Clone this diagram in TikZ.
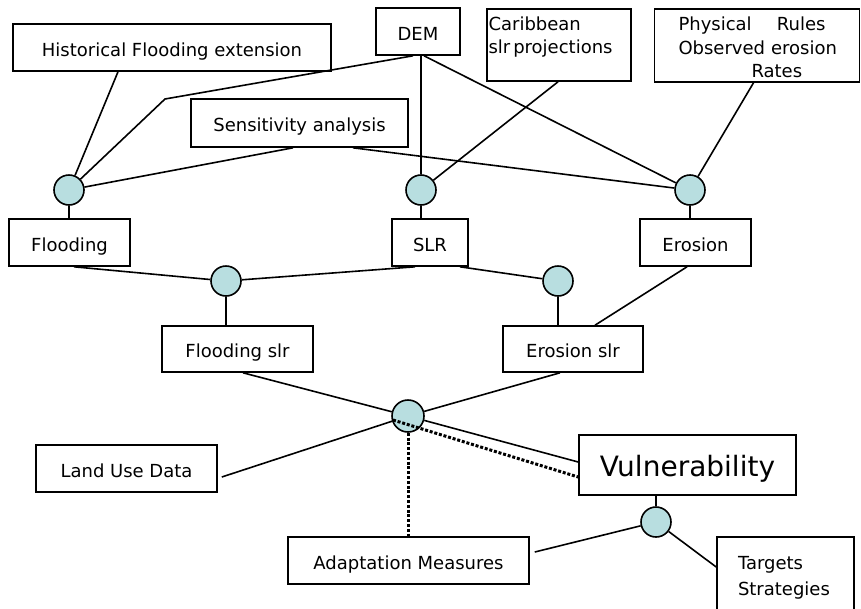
\documentclass[tikz,border=0pt]{standalone}
\usepackage{fontspec}
\setmainfont{DejaVu Sans}
\definecolor{hubfill}{RGB}{184,222,224}
\begin{document}
\begin{tikzpicture}[x=1pt,y=-1pt,
  box/.style={draw, line width=1.6pt, inner sep=0pt, font=\fontsize{18}{24}\selectfont, text height=17.5pt, text depth=0pt},
  hub/.style={draw, circle, fill=hubfill, line width=1.6pt, minimum size=30pt, inner sep=0pt},
  link/.style={line width=1.6pt},
  dotlink/.style={line width=3pt, dash pattern=on 3pt off 1.8pt}]
\useasboundingbox (0,0) rectangle (861,608);

% boxes
\node[box, minimum width=318pt, minimum height=47pt] (hist) at (172,47.5) {Historical Flooding extension};
\node[box, minimum width=84pt, minimum height=47pt] (dem) at (418,31.5) {DEM};
\node[box, minimum width=144pt, minimum height=72pt, text width=141pt, align=left, font=\fontsize{18}{23}\selectfont, text height=14pt, text depth=42.6pt] (carib) at (559,45) {Caribbean\\slr\hspace{3pt}projections};
\node[box, minimum width=205pt, minimum height=73pt, text width=205pt, align=left, font=\fontsize{18}{23.5}\selectfont, text height=14pt, text depth=43.6pt] (phys) at (757,45.5) {\hspace*{24pt}\makebox[147pt][l]{Physical\hfill Rules}\\\hspace*{24pt}Observed erosion\\\hspace*{97pt}Rates};
\node[box, minimum width=217pt, minimum height=48pt] (sens) at (299.5,123) {Sensitivity analysis};
\node[box, minimum width=121pt, minimum height=47pt] (flood) at (69.5,242.5) {Flooding};
\node[box, minimum width=76pt, minimum height=47pt] (slr) at (430,242.5) {SLR};
\node[box, minimum width=111pt, minimum height=47pt] (eros) at (695.5,242.5) {Erosion};
\node[box, minimum width=151pt, minimum height=46pt] (floodslr) at (237.5,349) {Flooding slr};
\node[box, minimum width=140pt, minimum height=46pt] (erosslr) at (573,349) {Erosion slr};
\node[box, minimum width=181pt, minimum height=47pt] (landuse) at (126.5,468.5) {Land Use Data};
\node[box, minimum width=217pt, minimum height=60pt, font=\fontsize{28}{32}\selectfont, text height=23.4pt] (vuln) at (687.5,465) {Vulnerability};
\node[box, minimum width=241pt, minimum height=47pt] (adapt) at (408.5,560.5) {Adaptation Measures};
\node[box, minimum width=137pt, minimum height=73pt, text width=95pt, align=left, font=\fontsize{18}{26}\selectfont, text height=14pt, text depth=22.4pt] (targets) at (785.5,573.5) {Targets\\Strategies};

% hubs
\node[hub] (c1) at (69,190) {};
\node[hub] (c2) at (421,190) {};
\node[hub] (c3) at (690,190) {};
\node[hub] (c4) at (226,281) {};
\node[hub] (c5) at (558,281) {};
\node[hub, minimum size=32pt] (c6) at (408,416) {};
\node[hub] (c7) at (656,522) {};

% connectors
\coordinate (bend) at (165,99);
\draw[link] ([xshift=-5pt]dem.south) -- (bend) -- (c1);
\draw[link] ([xshift=-54pt]hist.south) -- (c1);
\draw[link] (c1) -- ([xshift=-6.5pt]sens.south);
\draw[link] ([xshift=53.5pt]sens.south) -- (c3);
\draw[link] (dem.south -| c2) -- (c2);
\draw[link] ([xshift=6pt]dem.south) -- (c3);
\draw[link] ([xshift=-1pt]carib.south) -- (c2);
\draw[link] ([xshift=-3.5pt]phys.south) -- (c3);
\draw[link] (c1) -- (c1 |- flood.north);
\draw[link] (c2) -- (c2 |- slr.north);
\draw[link] (c3) -- (c3 |- eros.north);
\draw[link] ([xshift=4.5pt]flood.south) -- (c4);
\draw[link] (c4) -- ([xshift=-15pt]slr.south);
\draw[link] ([xshift=30pt]slr.south) -- (c5);
\draw[link] (c4) -- (c4 |- floodslr.north);
\draw[link] (c5) -- (c5 |- erosslr.north);
\draw[link] ([xshift=-8.5pt]eros.south) -- ([xshift=22pt]erosslr.north);
\draw[link] ([xshift=5.5pt]floodslr.south) -- (c6) -- ([yshift=3pt]vuln.west);
\draw[link] ([xshift=-13pt]erosslr.south) -- (c6) -- ([xshift=4pt,yshift=-8.5pt]landuse.east);
\draw[dotlink] (c6) -- (c6 |- adapt.north);
\draw[dotlink] ([xshift=-15pt,yshift=-4pt]c6.center) -- ([yshift=-12pt]vuln.west);
\draw[link] (vuln.south -| c7) -- (c7);
\draw[link] (c7) -- ([xshift=5pt,yshift=8.5pt]adapt.east);
\draw[link] (c7) -- ([yshift=6.5pt]targets.west);
\end{tikzpicture}
\end{document}
